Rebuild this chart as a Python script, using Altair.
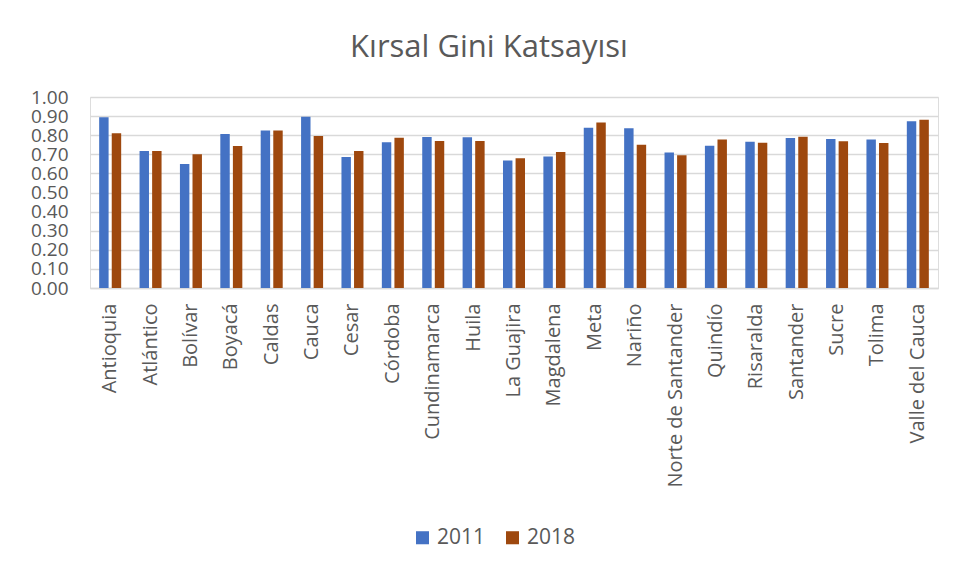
import altair as alt
import pandas as pd

departments = ["Antioquia", "Atlántico", "Bolívar", "Boyacá", "Caldas", "Cauca", "Cesar",
               "Córdoba", "Cundinamarca", "Huila", "La Guajira", "Magdalena", "Meta", "Nariño",
               "Norte de Santander", "Quindío", "Risaralda", "Santander", "Sucre", "Tolima",
               "Valle del Cauca"]
gini_2011 = [0.894, 0.717, 0.649, 0.806, 0.824, 0.897, 0.686,
             0.763, 0.791, 0.789, 0.667, 0.688, 0.839, 0.836,
             0.710, 0.745, 0.766, 0.785, 0.780, 0.777, 0.873]
gini_2018 = [0.810, 0.717, 0.700, 0.743, 0.824, 0.796, 0.717,
             0.787, 0.770, 0.770, 0.679, 0.712, 0.867, 0.750,
             0.695, 0.777, 0.761, 0.792, 0.768, 0.759, 0.881]
years = ["2011", "2018"]
colors = ["#4472C4", "#9E480E"]

rows = []
for i, d in enumerate(departments):
    rows.append({"Departamento": d, "Yıl": years[0], "Gini": gini_2011[i]})
    rows.append({"Departamento": d, "Yıl": years[1], "Gini": gini_2018[i]})
df = pd.DataFrame(rows)

FONT = "Open Sans"
TXT = "#595959"

chart = alt.Chart(df).mark_bar().encode(
    x=alt.X("Departamento:N", sort=departments, title=None,
            scale=alt.Scale(paddingInner=0.455, paddingOuter=0.227),
            axis=alt.Axis(labelAngle=-90, labelFontSize=20, labelColor=TXT, labelFont=FONT,
                          labelPadding=15, ticks=False, domainColor="#d9d9d9", domainWidth=1.5,
                          labelLimit=300)),
    xOffset=alt.XOffset("Yıl:N", scale=alt.Scale(paddingInner=0.25)),
    y=alt.Y("Gini:Q", title=None,
            scale=alt.Scale(domain=[0, 1]),
            axis=alt.Axis(values=[i / 10 for i in range(11)], format=".2f", labelFontSize=19,
                          labelColor=TXT, labelFont=FONT, labelPadding=22, ticks=False,
                          domain=False, gridColor="#d9d9d9", gridWidth=1.5)),
    color=alt.Color("Yıl:N", scale=alt.Scale(domain=years, range=colors),
                    legend=alt.Legend(title=None, orient="none", direction="horizontal",
                                      legendX=322, legendY=430, symbolType="square",
                                      symbolSize=170, symbolStrokeWidth=0,
                                      labelFontSize=21, labelColor=TXT, labelFont=FONT,
                                      columnPadding=16, symbolOpacity=1)),
).properties(
    width=848,
    height=191,
    title=alt.TitleParams("Kırsal Gini Katsayısı", fontSize=31, font=FONT, color=TXT,
                          fontWeight="normal", anchor="middle", offset=24, dx=-25),
    padding={"left": 22, "top": 24, "right": 5, "bottom": 5},
).configure_view(stroke=None).configure(background="white")

chart.save("out.html", embed_options={"renderer": "svg", "actions": False})
